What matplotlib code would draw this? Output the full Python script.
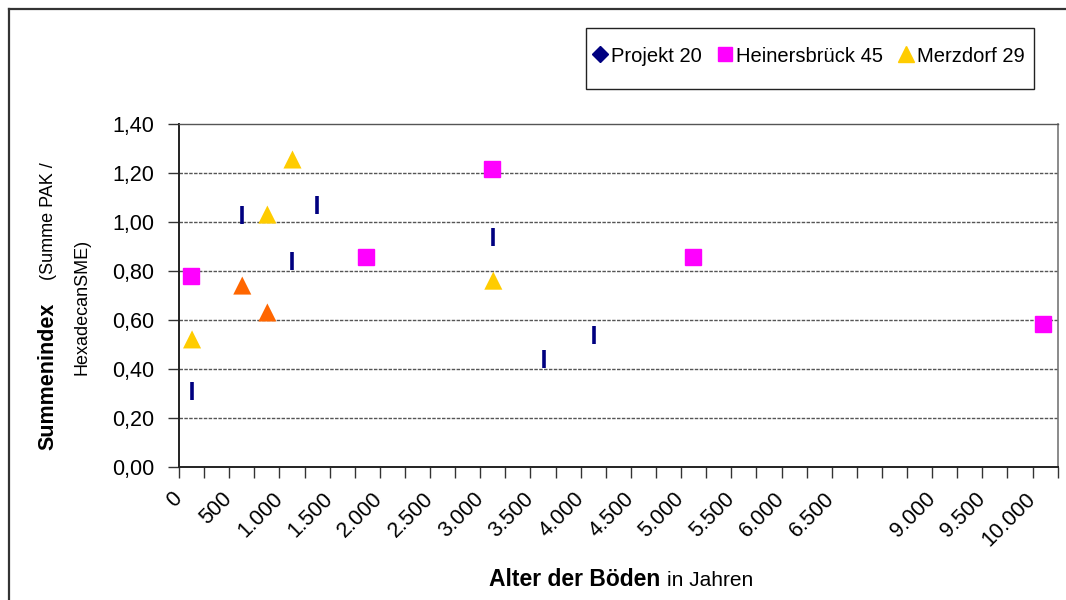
import numpy as np
import matplotlib.pyplot as plt
from matplotlib.lines import Line2D
from matplotlib.patches import Rectangle

plt.rcParams['font.family'] = ['Liberation Sans', 'DejaVu Sans']

# Alter in Jahren und Summenindex je Standort
projekt_age = [130, 630, 1130, 1375, 3130, 3630, 4130]
projekt_idx = [0.31, 1.03, 0.84, 1.07, 0.94, 0.44, 0.54]

heiners_age = [120, 1860, 3120, 5120, 10100]
heiners_idx = [0.78, 0.855, 1.215, 0.855, 0.585]

merz_age = [130, 630, 880, 880, 1130, 3130]
merz_idx = [0.52, 0.74, 0.63, 1.03, 1.255, 0.76]
merz_marked = [False, True, True, False, False, False]

tick_years = [0, 500, 1000, 1500, 2000, 2500, 3000, 3500, 4000, 4500,
              5000, 5500, 6000, 6500, None, 9000, 9500, 10000]
y_ticks = [0.0, 0.2, 0.4, 0.6, 0.8, 1.0, 1.2, 1.4]

# axis is shortened above 7000 years (9.000 sits where 7.500 would be)
AXIS_BREAK = 7000
AXIS_SHIFT = 1500


def axis_pos(years):
    years = np.asarray(years, dtype=float)
    return np.where(years > AXIS_BREAK, years - AXIS_SHIFT, years)


def fmt_de(v):
    return f"{v:,.0f}".replace(',', '.')


NAVY = '#000080'
MAGENTA = '#FF00FF'
GOLD = '#FFCC00'
ORANGE = '#FF6600'

W, H = 1066, 600
fig = plt.figure(figsize=(W / 100, H / 100), dpi=100)
ax = fig.add_axes([179 / W, 1 - 466.7 / H, 878.7 / W, 342.7 / H])

# outer frame (top and left edge only)
fig.add_artist(Line2D([8.5 / W, 1.0], [1 - 8.5 / H] * 2, transform=fig.transFigure,
                      color='#333333', lw=1.6))
fig.add_artist(Line2D([8.5 / W] * 2, [0.0, 1 - 8.5 / H], transform=fig.transFigure,
                      color='#333333', lw=1.6))

# gridlines
for y in y_ticks[1:-1]:
    ax.axhline(y, color='#555555', lw=1.0, ls=(0, (2.5, 1)), zorder=1)

ax.plot(axis_pos(projekt_age), projekt_idx, ls='none', marker='|', ms=13,
        mew=2.6, color=NAVY, zorder=3)
ax.plot(axis_pos(heiners_age), heiners_idx, ls='none', marker='s', ms=12,
        mfc=MAGENTA, mec=MAGENTA, zorder=3)
merz_colors = [ORANGE if m else GOLD for m in merz_marked]
ax.scatter(axis_pos(merz_age), merz_idx, marker='^', s=13 ** 2, c=merz_colors,
           linewidths=0, zorder=3)

ax.set_xlim(0, 8750)
ax.set_ylim(0, 1.4)

label_pos = [i * 500 for i in range(len(tick_years))]
label_txt = ['' if t is None else fmt_de(t) for t in tick_years]
ax.set_xticks(label_pos)
ax.set_xticklabels(label_txt, rotation=45, ha='right', va='center',
                   rotation_mode='anchor', fontsize=15.5)
ax.set_xticks(np.arange(0, 8751, 250), minor=True)
ax.tick_params(axis='x', which='both', direction='out', length=8, width=1,
               color='#333333', pad=13)

ax.set_yticks(y_ticks)
ax.set_yticklabels([f"{v:.2f}".replace('.', ',') for v in y_ticks], fontsize=15.5)
ax.tick_params(axis='y', direction='out', length=8, width=1, color='#333333', pad=10)

for side in ['left', 'bottom']:
    ax.spines[side].set_color('#222222')
    ax.spines[side].set_linewidth(1.4)
ax.spines['right'].set_color('#777777')
ax.spines['top'].set_color('#555555')
ax.spines['right'].set_linewidth(1.2)
ax.spines['top'].set_linewidth(1.0)

# axis titles
fig.text(53 / W, 1 - 376.5 / H, 'Summenindex', rotation=90, ha='center',
         va='baseline', rotation_mode='anchor', fontsize=15.5, fontweight='bold')
fig.text(53 / W, 1 - 221 / H, '(Summe PAK /', rotation=90, ha='center',
         va='baseline', rotation_mode='anchor', fontsize=13)
fig.text(87 / W, 1 - 307 / H, 'HexadecanSME)', rotation=90, ha='center',
         va='baseline', rotation_mode='anchor', fontsize=13)
fig.text(660 / W, 1 - 580 / H, 'Alter der Böden', ha='right', va='center',
         fontsize=16.5, fontweight='bold')
fig.text(667 / W, 1 - 580 / H, 'in Jahren', ha='left', va='center',
         fontsize=15)

# legend box
fig.add_artist(Rectangle((586 / W, 1 - 89 / H), 448 / W, 61 / H,
                         transform=fig.transFigure, fill=False,
                         edgecolor='#222222', lw=1.0))
handles = [
    Line2D([], [], ls='none', marker='D', ms=8, color=NAVY),
    Line2D([], [], ls='none', marker='s', ms=10, color=MAGENTA),
    Line2D([], [], ls='none', marker='^', ms=12, color=GOLD),
]
fig.legend(handles, ['Projekt 20', 'Heinersbrück 45', 'Merzdorf 29'],
           loc='center left', bbox_to_anchor=(593 / W, 1 - 56 / H),
           ncol=3, fontsize=14.5, frameon=False, borderpad=0,
           handlelength=0.7, handletextpad=0.2, columnspacing=0.8,
           borderaxespad=0)

fig.savefig('out.png', dpi=100)
